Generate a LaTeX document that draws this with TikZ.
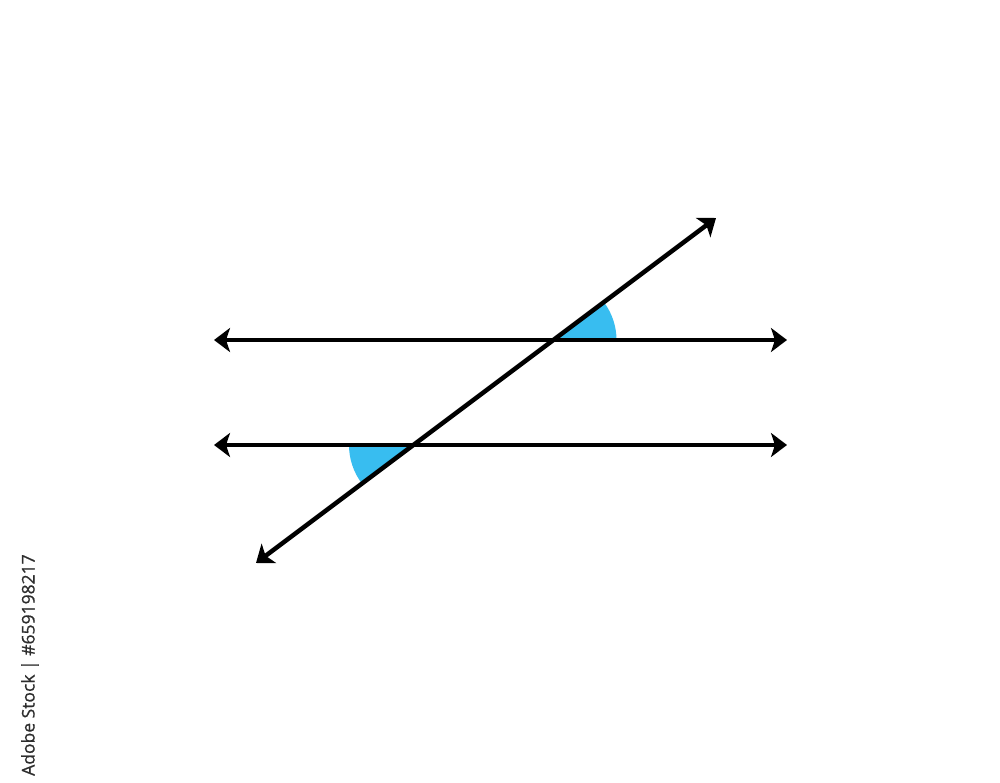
\documentclass[tikz,border=0pt]{standalone}
\usepackage{fontspec}
\newfontfamily\wmfont[FakeBold=0.8]{Open Sans}
\usetikzlibrary{arrows.meta}
\definecolor{anglecol}{RGB}{56,189,240}
\definecolor{wmgray}{RGB}{45,45,45}
\tikzset{
  tipshape/.tip={Stealth[length=16pt,width=24pt,inset=4pt]},
  lineshape/.style={line width=4.5pt, tipshape-tipshape},
  anglefill/.style={fill=anglecol, draw=none}
}
\begin{document}
\begin{tikzpicture}[x=1pt,y=-1pt]
\useasboundingbox (0,0) rectangle (1000,783);
\coordinate (A) at (553.5,340);
\coordinate (B) at (413,445);
% angle sectors
\fill[anglefill] (A) -- ++(63,0) arc[start angle=0,end angle=-36.8,radius=63] -- cycle;
\fill[anglefill] (B) -- ++(-64,0) arc[start angle=180,end angle=143.2,radius=64] -- cycle;
% lines
\coordinate (L1a) at (214,340);
\coordinate (L1b) at (787,340);
\coordinate (L2a) at (214,445);
\coordinate (L2b) at (787,445);
\coordinate (Ta) at (256,563);
\coordinate (Tb) at (716,218);
\draw[lineshape] (L1a) -- (L1b);
\draw[lineshape] (L2a) -- (L2b);
\draw[lineshape] (Ta) -- (Tb);
% side credit
\node[rotate=90, anchor=west, text=wmgray, font=\wmfont\fontsize{17.5}{20}\selectfont, inner sep=0pt] (credit) at (30,776) {Adobe Stock | \#659198217};
\end{tikzpicture}
\end{document}
